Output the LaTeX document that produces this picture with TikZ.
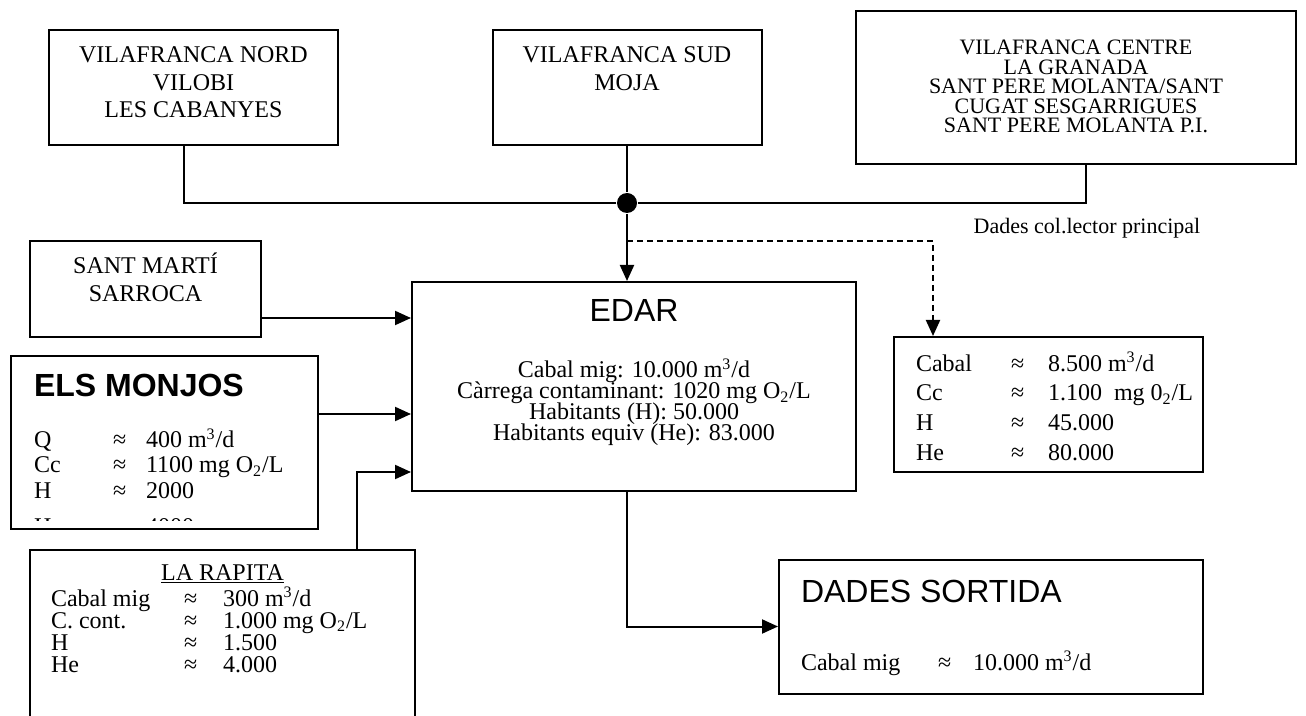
\documentclass[tikz,border=0pt]{standalone}
\usepackage{fontspec}
\setmainfont{Liberation Serif}
\newfontfamily\arialfont{Liberation Sans}
\usetikzlibrary{arrows.meta}

\begin{document}
\begin{tikzpicture}[x=0.5pt, y=-0.5pt, line width=1pt,
    box/.style={draw, rectangle, inner sep=0pt},
    txt/.style={inner sep=0pt, anchor=base, font=\fontsize{12}{14}\selectfont},
    cell/.style={txt, anchor=base west},
    titol/.style={inner sep=0pt, anchor=base, font=\arialfont\fontsize{16}{19}\selectfont},
    arr/.style={-{Triangle[length=8pt,width=7pt]}}]
\useasboundingbox (0,0) rectangle (1306,716);

% Collectors at the top
\node[box, minimum width=144.5pt, minimum height=57.5pt] (nord) at (193.5,87.5) {};
\foreach \t [count=\i] in {VILAFRANCA NORD, VILOBI, LES CABANYES}
  \node[txt] (nord-\i) at (193.5, 35.5+27.5*\i) {\t};

\node[box, minimum width=134.5pt, minimum height=57.5pt] (sud) at (627,87.5) {};
\foreach \t [count=\i] in {VILAFRANCA SUD, MOJA}
  \node[txt] (sud-\i) at (627, 35.5+27.5*\i) {\t};

\node[box, minimum width=220pt, minimum height=76.5pt] (centre) at (1076,87.5) {};
\node[txt, anchor=north, align=center, font=\fontsize{11}{9.75}\selectfont]
  (centre-txt) at (1076,39) {VILAFRANCA CENTRE\\LA GRANADA\\SANT PERE MOLANTA/SANT\\
    CUGAT SESGARRIGUES\\SANT PERE MOLANTA P.I.};

% Main collector
\node[circle, fill, inner sep=0pt, minimum size=10pt] (unio) at (627,203) {};
\draw ([xshift=-4.75pt]nord.south) |- (unio);
\draw (sud.south) -- (unio);
\draw ([xshift=5pt]centre.south) |- (unio);
\node[txt, font=\fontsize{11}{13}\selectfont] (dades) at (1087,234) {Dades col.lector principal};

% EDAR
\node[box, minimum width=222pt, minimum height=104.5pt] (edar) at (634,386.5) {};
\node[titol] (edar-t) at (634,322) {EDAR};
\foreach \t [count=\i] in {{Cabal mig: 10.000 m\textsuperscript{3}/d},
    {Càrrega contaminant: 1020 mg O\textsubscript{2}/L},
    {Habitants (H): 50.000}, {Habitants equiv (He): 83.000}}
  \node[txt] (edar-\i) at (634, 357+21*\i) {\t};
\draw[arr] (unio) -- (unio |- edar.north);

% Data of the main collector
\node[box, minimum width=154.5pt, minimum height=67.5pt] (colector) at (1048.5,404.5) {};
\foreach \lab/\val [count=\i] in {Cabal/{8.500 m\textsuperscript{3}/d},
    Cc/{1.100\ \ mg 0\textsubscript{2}/L}, H/{45.000}, He/{80.000}} {
  \node[cell] (colector-l\i) at (915, 341.5+29.7*\i) {\lab};
  \node[cell] (colector-a\i) at (1010, 341.5+29.7*\i) {≈};
  \node[cell] (colector-v\i) at (1047, 341.5+29.7*\i) {\val};
}
\coordinate (ramal) at (627,241);
\draw[arr, dash pattern=on 3pt off 2pt] (ramal) -| ([xshift=-57.75pt]colector.north);

% Sant Marti
\node[box, minimum width=115.5pt, minimum height=48pt] (santmarti) at (145.5,289) {};
\foreach \t [count=\i] in {SANT MARTÍ, SARROCA}
  \node[txt] (santmarti-\i) at (145.5, 246+28*\i) {\t};
\coordinate (in1) at (0,318);
\draw[arr] (santmarti.east |- in1) -- (edar.west |- in1);

% Els Monjos
\node[box, minimum width=153.5pt, minimum height=86.5pt] (monjos) at (164.5,442.5) {};
\node[titol, font=\arialfont\bfseries\fontsize{16}{19}\selectfont, anchor=base west]
  (monjos-t) at (33,397) {ELS MONJOS};
\foreach \lab/\val [count=\i] in {Q/{400 m\textsuperscript{3}/d},
    Cc/{1100 mg O\textsubscript{2}/L}, H/{2000}} {
  \node[cell] (monjos-l\i) at (33, 423+25*\i) {\lab};
  \node[cell] (monjos-a\i) at (112, 423+25*\i) {≈};
  \node[cell] (monjos-v\i) at (145, 423+25*\i) {\val};
}
\begin{scope}
  \clip (11,356) rectangle (318,520);
  \node[cell] (monjos-l4) at (33,534) {He};
  \node[cell] (monjos-a4) at (112,534) {≈};
  \node[cell] (monjos-v4) at (145,534) {4000};
\end{scope}
\coordinate (in2) at (0,414);
\draw[arr] (monjos.east |- in2) -- (edar.west |- in2);

% La Rapita
\node[box, minimum width=192.5pt, minimum height=90pt] (rapita) at (222.5,640) {};
\node[txt] (rapita-t) at (222.5,580) {\underline{LA RAPITA}};
\foreach \lab/\val [count=\i] in {Cabal mig/{300 m\textsuperscript{3}/d},
    C. cont./{1.000 mg O\textsubscript{2}/L}, H/{1.500}, He/{4.000}} {
  \node[cell] (rapita-l\i) at (50, 584+22*\i) {\lab};
  \node[cell] (rapita-a\i) at (183, 584+22*\i) {≈};
  \node[cell] (rapita-v\i) at (222, 584+22*\i) {\val};
}
\coordinate (in3) at (357,472);
\draw[arr] (rapita.north -| in3) |- (edar.west |- in3);

% Output
\node[box, minimum width=212pt, minimum height=67pt] (sortida) at (991,626.5) {};
\node[titol, anchor=base west] (sortida-t) at (800,602) {DADES SORTIDA};
\node[cell] (sortida-l) at (800,670) {Cabal mig};
\node[cell] (sortida-a) at (937,670) {≈};
\node[cell] (sortida-v) at (972,670) {10.000 m\textsuperscript{3}/d};
\draw[arr] (edar.south -| unio) |- (sortida.west);
\end{tikzpicture}
\end{document}
